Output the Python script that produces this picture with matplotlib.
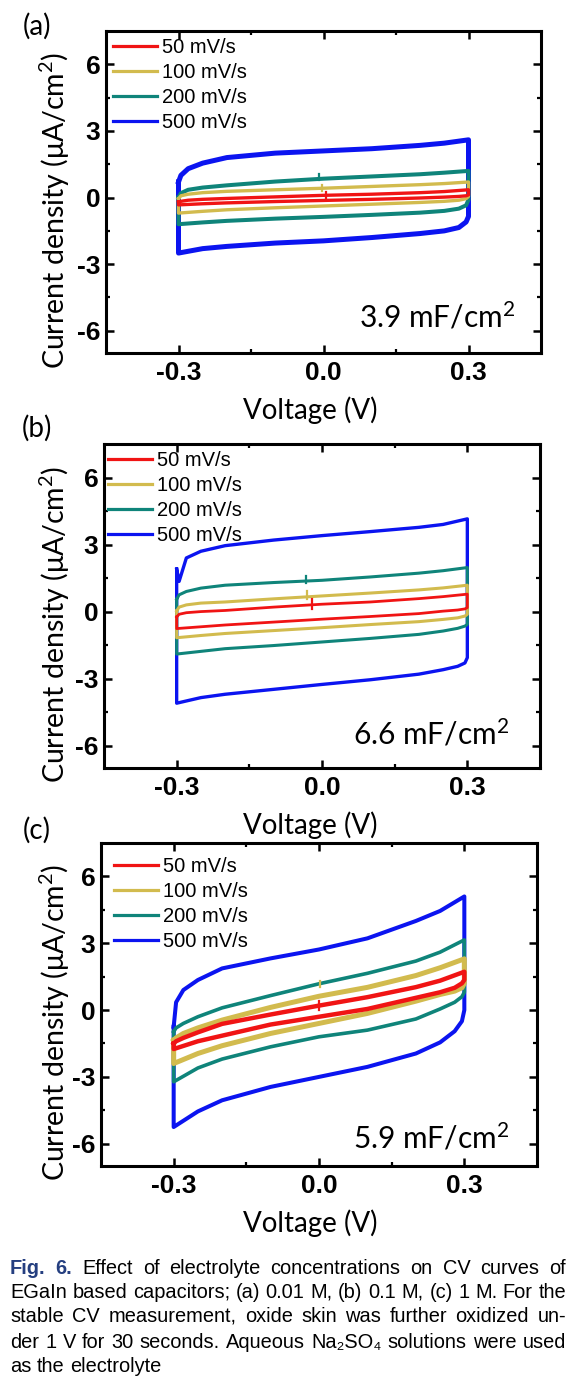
import matplotlib
matplotlib.use("Agg")
import matplotlib.pyplot as plt
from matplotlib.lines import Line2D
from matplotlib.ticker import FixedLocator
from matplotlib.font_manager import FontProperties

plt.rcParams['axes.unicode_minus'] = False
plt.rcParams['mathtext.fontset'] = 'custom'
plt.rcParams['mathtext.rm'] = 'Lato'
plt.rcParams['mathtext.it'] = 'Lato:italic'
plt.rcParams['mathtext.bf'] = 'Lato:bold'

# ---------------- data ----------------
RATES = ['50 mV/s', '100 mV/s', '200 mV/s', '500 mV/s']
COLORS = ['#f01414', '#d2bb4e', '#0f847a', '#0b14f0']

# voltage grids of forward (upper) and reverse (lower) branches
V_UP = [-0.3, -0.295, -0.28, -0.25, -0.2, -0.1, 0.0, 0.1, 0.2, 0.25, 0.3]
V_DN = [0.3, 0.295, 0.28, 0.25, 0.2, 0.1, 0.0, -0.1, -0.2, -0.25, -0.3]

# panel (a) 0.01 M
A_RED_UP = [-0.2, -0.17, -0.12, -0.08, -0.04, 0.03, 0.1, 0.15, 0.22, 0.27, 0.35]
A_RED_DN = [0.12, 0.08, 0.05, 0.02, -0.02, -0.08, -0.13, -0.18, -0.24, -0.28, -0.33]
A_YEL_UP = [-0.05, 0.08, 0.15, 0.22, 0.28, 0.35, 0.42, 0.5, 0.58, 0.63, 0.7]
A_YEL_DN = [0.05, -0.05, -0.12, -0.17, -0.22, -0.3, -0.38, -0.46, -0.55, -0.62, -0.7]
A_TEA_UP = [0.0, 0.2, 0.35, 0.45, 0.55, 0.72, 0.85, 0.95, 1.05, 1.12, 1.2]
A_TEA_DN = [-0.1, -0.35, -0.5, -0.6, -0.68, -0.78, -0.87, -0.95, -1.05, -1.12, -1.2]
A_BLU_UP = [0.7, 1.0, 1.3, 1.55, 1.8, 2.0, 2.1, 2.2, 2.35, 2.45, 2.6]
A_BLU_DN = [-0.85, -1.1, -1.35, -1.5, -1.62, -1.8, -1.95, -2.05, -2.2, -2.3, -2.5]
A_BLIP_X = [0.005, -0.003, -0.01]
A_BLIP_LO = [0.0, 0.3, 0.8]
A_BLIP_HI = [0.25, 0.55, 1.05]

# panel (b) 0.1 M
B_RED_UP = [-0.24, -0.12, -0.05, 0.0, 0.05, 0.2, 0.33, 0.43, 0.58, 0.67, 0.78]
B_RED_DN = [0.18, 0.12, 0.07, 0.02, -0.09, -0.22, -0.34, -0.47, -0.6, -0.68, -0.76]
B_YEL_UP = [0.03, 0.2, 0.3, 0.38, 0.43, 0.57, 0.7, 0.83, 0.97, 1.06, 1.18]
B_YEL_DN = [-0.12, -0.2, -0.28, -0.35, -0.45, -0.58, -0.72, -0.85, -0.98, -1.07, -1.17]
B_TEA_UP = [0.55, 0.75, 0.9, 1.05, 1.18, 1.3, 1.4, 1.55, 1.72, 1.83, 1.97]
B_TEA_DN = [-0.57, -0.65, -0.75, -0.87, -1.02, -1.2, -1.36, -1.52, -1.66, -1.78, -1.9]
B_BLU_UP = [1.9, 1.35, 2.4, 2.7, 2.95, 3.2, 3.4, 3.58, 3.77, 3.9, 4.15]
B_BLU_DN = [-2.06, -2.3, -2.45, -2.6, -2.8, -3.05, -3.26, -3.48, -3.7, -3.85, -4.1]
B_BLIP_X = [-0.021, -0.03, -0.033]
B_BLIP_LO = [0.1, 0.55, 1.3]
B_BLIP_HI = [0.55, 0.93, 1.6]

# panel (c) 1 M
C_RED_UP = [-1.5, -1.4, -1.25, -1.0, -0.62, -0.2, 0.2, 0.58, 1.03, 1.32, 1.72]
C_RED_DN = [1.35, 1.2, 1.0, 0.8, 0.55, 0.05, -0.3, -0.65, -1.15, -1.4, -1.75]
C_YEL_UP = [-1.35, -1.25, -1.05, -0.8, -0.45, 0.12, 0.62, 1.02, 1.55, 1.9, 2.3]
C_YEL_DN = [1.2, 1.0, 0.85, 0.7, 0.4, -0.15, -0.6, -1.05, -1.6, -1.95, -2.4]
C_TEA_UP = [-0.97, -0.8, -0.6, -0.3, 0.1, 0.65, 1.18, 1.65, 2.2, 2.6, 3.15]
C_TEA_DN = [0.8, 0.6, 0.35, 0.05, -0.4, -0.9, -1.2, -1.65, -2.2, -2.6, -3.22]
C_BLU_UP = [-0.75, 0.35, 0.9, 1.35, 1.87, 2.32, 2.72, 3.22, 4.0, 4.45, 5.1]
C_BLU_DN = [0.0, -0.5, -0.95, -1.45, -1.95, -2.55, -3.0, -3.45, -4.05, -4.55, -5.25]
C_BLIP_X = [0.0, 0.003]
C_BLIP_LO = [0.0, 1.05]
C_BLIP_HI = [0.4, 1.3]

CAPACITANCE = ['3.9 mF/cm$^{2}$', '6.6 mF/cm$^{2}$', '5.9 mF/cm$^{2}$']
PANEL_TAGS = ['(a)', '(b)', '(c)']
X_TICKS = [-0.3, 0.0, 0.3]
X_TICK_LABELS = ['-0.3', '0.0', '0.3']
Y_TICKS = [-6, -3, 0, 3, 6]
Y_TICK_LABELS = ['-6', '-3', '0', '3', '6']
X_LABEL = 'Voltage (V)'
Y_LABEL = 'Current density (\u03bcA/cm$^{2}$)'

CAPTION_LINES = [
    "Effect of electrolyte concentrations on CV curves of",
    "EGaIn based capacitors; (a) 0.01 M, (b) 0.1 M, (c) 1 M. For the",
    "stable CV measurement, oxide skin was further oxidized un-",
    "der 1 V for 30 seconds. Aqueous Na\u2082SO\u2084 solutions were used",
    "as the electrolyte",
]

# ---------------- figure ----------------
W, H = 584, 1383
fig = plt.figure(figsize=(W / 100, H / 100), dpi=100)

HUM = 'Lato'
ARIAL = ['Liberation Sans', 'DejaVu Sans']


def add_ax(l, t, r, b):
    return fig.add_axes([l / W, 1 - b / H, (r - l) / W, (b - t) / H])


panels = [
    dict(box=(106, 31, 541, 353), data=[(A_RED_UP, A_RED_DN), (A_YEL_UP, A_YEL_DN),
                                        (A_TEA_UP, A_TEA_DN), (A_BLU_UP, A_BLU_DN)],
         blips=(A_BLIP_X, A_BLIP_LO, A_BLIP_HI), lw=[2.4, 2.4, 2.9, 3.6], tag_y=26,
         leg=(113, 49), cap=(515, 317)),
    dict(box=(104, 444, 540, 768), data=[(B_RED_UP, B_RED_DN), (B_YEL_UP, B_YEL_DN),
                                         (B_TEA_UP, B_TEA_DN), (B_BLU_UP, B_BLU_DN)],
         blips=(B_BLIP_X, B_BLIP_LO, B_BLIP_HI), lw=[2.0, 2.2, 2.2, 2.4], tag_y=428,
         leg=(108, 462), cap=(509, 734)),
    dict(box=(101, 843, 537, 1166), data=[(C_RED_UP, C_RED_DN), (C_YEL_UP, C_YEL_DN),
                                          (C_TEA_UP, C_TEA_DN), (C_BLU_UP, C_BLU_DN)],
         blips=(C_BLIP_X, C_BLIP_LO, C_BLIP_HI), lw=[3.2, 3.6, 2.6, 2.9], tag_y=830,
         leg=(114, 868), cap=(509, 1138)),
]

for i, p in enumerate(panels):
    l, t, r, b = p['box']
    hpx = b - t
    wpx = r - l
    ax = add_ax(l, t, r, b)
    # draw blue first so red ends on top
    for k in [3, 2, 1, 0]:
        up, dn = p['data'][k]
        xs = V_UP + V_DN + [V_UP[0]]
        ys = up + dn + [up[0]]
        ax.plot(xs, ys, color=COLORS[k], lw=p['lw'][k], solid_joinstyle='round')
    bx, blo, bhi = p['blips']
    for j in range(len(bx)):
        ax.plot([bx[j], bx[j]], [blo[j], bhi[j]], color=COLORS[j], lw=1.6)
    ax.set_xlim(-0.45, 0.45)
    ax.set_ylim(-7, 7.5)
    ax.xaxis.set_major_locator(FixedLocator(X_TICKS))
    ax.xaxis.set_minor_locator(FixedLocator([-0.15, 0.15]))
    ax.yaxis.set_major_locator(FixedLocator(Y_TICKS))
    ax.yaxis.set_minor_locator(FixedLocator([-4.5, -1.5, 1.5, 4.5]))
    ax.set_xticklabels(X_TICK_LABELS, fontfamily=ARIAL, fontweight='bold', fontsize=19)
    ax.set_yticklabels(Y_TICK_LABELS, fontfamily=ARIAL, fontweight='bold', fontsize=19)
    ax.tick_params(which='both', direction='in', top=True, right=True)
    ax.tick_params(which='major', length=5.5, width=1.8)
    ax.tick_params(which='minor', length=3.2, width=1.6)
    ax.tick_params(axis='x', which='major', pad=6)
    ax.tick_params(axis='y', which='major', pad=4)
    for s in ax.spines.values():
        s.set_linewidth(2.2)
    ax.set_xlabel(X_LABEL, fontfamily=HUM, fontsize=20)
    ax.set_ylabel(Y_LABEL, fontfamily=HUM, fontsize=20.5)
    ax.xaxis.set_label_coords(0.5 + (310 - (l + r) / 2) / wpx, -57 / hpx)
    ax.xaxis.get_label().set_va('center')
    ax.yaxis.set_label_coords((55 - l) / wpx, 0.5 - 18 / hpx)
    ax.yaxis.get_label().set_va('center')

    handles = [Line2D([], [], color=c, lw=2.3) for c in COLORS]
    lx, ly = p['leg']
    ax.legend(handles, RATES, loc='upper left',
              bbox_to_anchor=((lx - l) / wpx, 1 - (ly - 11 - t) / hpx),
              frameon=False, prop=FontProperties(family='Liberation Sans', size=14.5),
              handlelength=2.2, handletextpad=0.25, labelspacing=0.3,
              borderaxespad=0, borderpad=0)
    cx, cy = p['cap']
    ax.text((cx - l) / wpx, (b - cy) / hpx, CAPACITANCE[i], transform=ax.transAxes,
            ha='right', va='center', fontfamily=HUM, fontsize=21.5)
    fig.text(37 / W, 1 - p['tag_y'] / H, PANEL_TAGS[i], ha='center', va='center',
             fontfamily=HUM, fontsize=20)

# ---------------- caption (justified) ----------------
renderer = fig.canvas.get_renderer()
X0, X1 = 10, 566
LINE_Y = [1268, 1292, 1317, 1342, 1367]

# font size chosen so that the tightest line (line 2) fits the column
probe = fig.text(0, 0, CAPTION_LINES[1], fontsize=10, fontfamily=ARIAL)
CAP_FS = 10 * (X1 - X0) / probe.get_window_extent(renderer).width * 0.995
probe.remove()


def text_w(s, **kw):
    t = fig.text(0, 0, s, fontsize=CAP_FS, fontfamily=ARIAL, **kw)
    w = t.get_window_extent(renderer).width
    t.remove()
    return w


def place_line(words, ypx, justify=True):
    texts = []
    for w, kw in words:
        t = fig.text(0, 1 - ypx / H, w, ha='left', va='center', fontsize=CAP_FS,
                     fontfamily=ARIAL, **kw)
        texts.append(t)
    widths = [t.get_window_extent(renderer).width for t in texts]
    sw = text_w('a a') - text_w('aa')
    if justify and len(texts) > 1:
        gap = (X1 - X0 - sum(widths)) / (len(texts) - 1)
    else:
        gap = sw
    x = X0
    for t, w in zip(texts, widths):
        t.set_x(x / W)
        x += w + gap


blue_kw = dict(color='#253f80', fontweight='bold')
line0 = [('Fig.', blue_kw), ('6.', blue_kw)] + [(w, {}) for w in CAPTION_LINES[0].split()]
place_line(line0, LINE_Y[0])
for k in range(1, 4):
    place_line([(w, {}) for w in CAPTION_LINES[k].split()], LINE_Y[k])
place_line([(w, {}) for w in CAPTION_LINES[4].split()], LINE_Y[4], justify=False)

fig.savefig('out.png', dpi=100)
